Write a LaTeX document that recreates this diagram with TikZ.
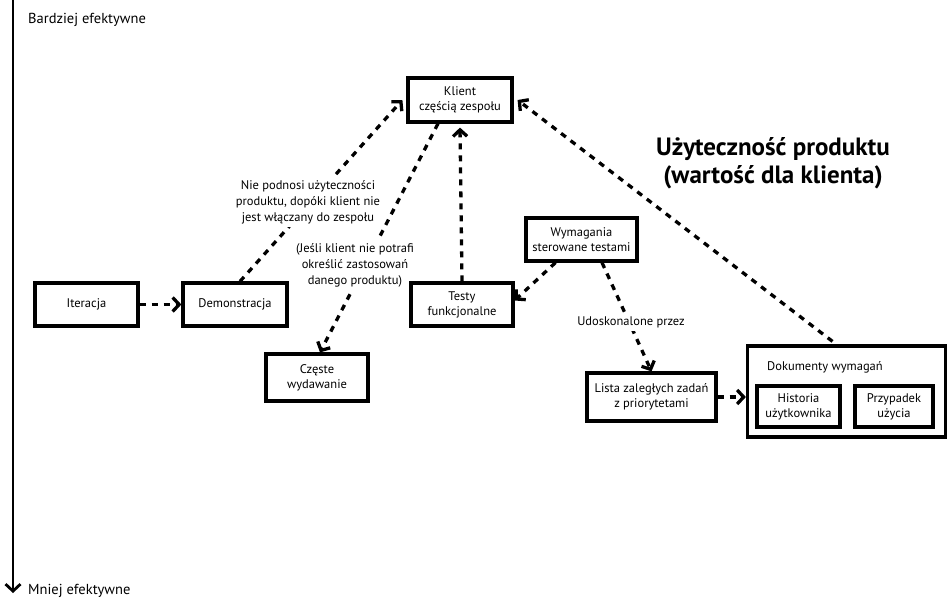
\documentclass[tikz,border=0pt]{standalone}
\usepackage{fontspec}
\setmainfont{PT Sans}
\usetikzlibrary{arrows.meta,calc}
\pgfdeclarelayer{bg}
\pgfdeclarelayer{fg}
\pgfsetlayers{bg,main,fg}
\begin{document}
\begin{tikzpicture}[x=1pt,y=-1pt,
  box/.style={draw,line width=3.2pt,align=center,font=\fontsize{12.5}{15}\selectfont,inner sep=2pt},
  lbl/.style={align=center,font=\fontsize{12.5}{16}\selectfont,inner sep=0pt},
  wlbl/.style={lbl,fill=white,inner sep=3pt},
  corner/.style={anchor=west,font=\fontsize{14.5}{17}\selectfont,inner sep=0pt},
  dar/.style={line width=3.3pt,dash pattern=on 6pt off 6pt,-{Straight Barb[length=6.5pt,width=14pt]}},
  axisarrow/.style={line width=2.8pt,-{Straight Barb[length=7pt,width=15pt]}}
]
\useasboundingbox (0,0) rectangle (948,602);
% axis
\coordinate (atop) at (13,0);
\coordinate (abot) at (13,593);
\draw[axisarrow] (atop) -- (abot);
\node[corner] (best) at (28,20) {Bardziej efektywne};
\node[corner] (worst) at (28,591) {Mniej efektywne};
% boxes
\begin{pgfonlayer}{fg}
\node[box,minimum width=104pt,minimum height=44pt] (klient) at (460,100) {Klient\\częścią zespołu};
\node[box,minimum width=103pt,minimum height=43pt] (iter) at (86.5,304.5) {Iteracja};
\node[box,minimum width=104pt,minimum height=43pt] (demo) at (235,304.5) {Demonstracja};
\node[box,minimum width=102pt,minimum height=47pt] (czeste) at (317,377.5) {Częste\\wydawanie};
\node[box,minimum width=102pt,minimum height=43pt] (testy) at (462,304.5) {Testy\\funkcjonalne};
\node[box,minimum width=111pt,minimum height=43pt] (wym) at (581.5,239.5) {Wymagania\\sterowane testami};
\node[box,minimum width=129pt,minimum height=48pt] (lista) at (651.5,397) {Lista zaległych zadań\\z priorytetami};
\node[box,minimum width=198pt,minimum height=91pt] (dok) at (846.5,391.5) {};
\node[lbl] (doktxt) at (825,367) {Dokumenty wymagań};
\node[box,minimum width=83pt,minimum height=41pt] (hist) at (798.5,406.5) {Historia\\użytkownika};
\node[box,minimum width=78pt,minimum height=41pt] (przyp) at (894,406.5) {Przypadek\\użycia};
\end{pgfonlayer}
% title
\node[align=center,font=\fontsize{25}{28}\bfseries\selectfont,inner sep=0pt] (title) at (773,163) {Użyteczność produktu\\(wartość dla klienta)};
% arrows
\begin{pgfonlayer}{bg}
\draw[dar] (iter.east) -- (demo.west);
\draw[dar] ([xshift=5pt]demo.north) -- ([xshift=-4pt]klient.west);
\draw[dar] ([xshift=-22pt]klient.south) -- ([xshift=3pt]czeste.north);
\draw[dar] (testy.north) -- ([yshift=-4pt]klient.south);
\draw[dar] ([xshift=-14pt,yshift=3pt]dok.north) -- ([xshift=4pt]klient.east);
\draw[dar] ([xshift=-26pt]wym.south) -- ([yshift=4pt]testy.east);
\draw[dar] ([xshift=20.5pt]wym.south) -- (lista.north);
\draw[dar] (lista.east) -- (lista.east -| dok.west);
\end{pgfonlayer}
% labels
\node[wlbl] (l1) at (308,202) {Nie podnosi użyteczności\\produktu, dopóki klient nie\\jest włączany do zespołu};
\node[wlbl] (l2) at (355,265) {(Jeśli klient nie potrafi\\określić zastosowań\\danego produktu)};
\node[wlbl] (l3) at (631,322) {Udoskonalone przez};
\end{tikzpicture}
\end{document}
